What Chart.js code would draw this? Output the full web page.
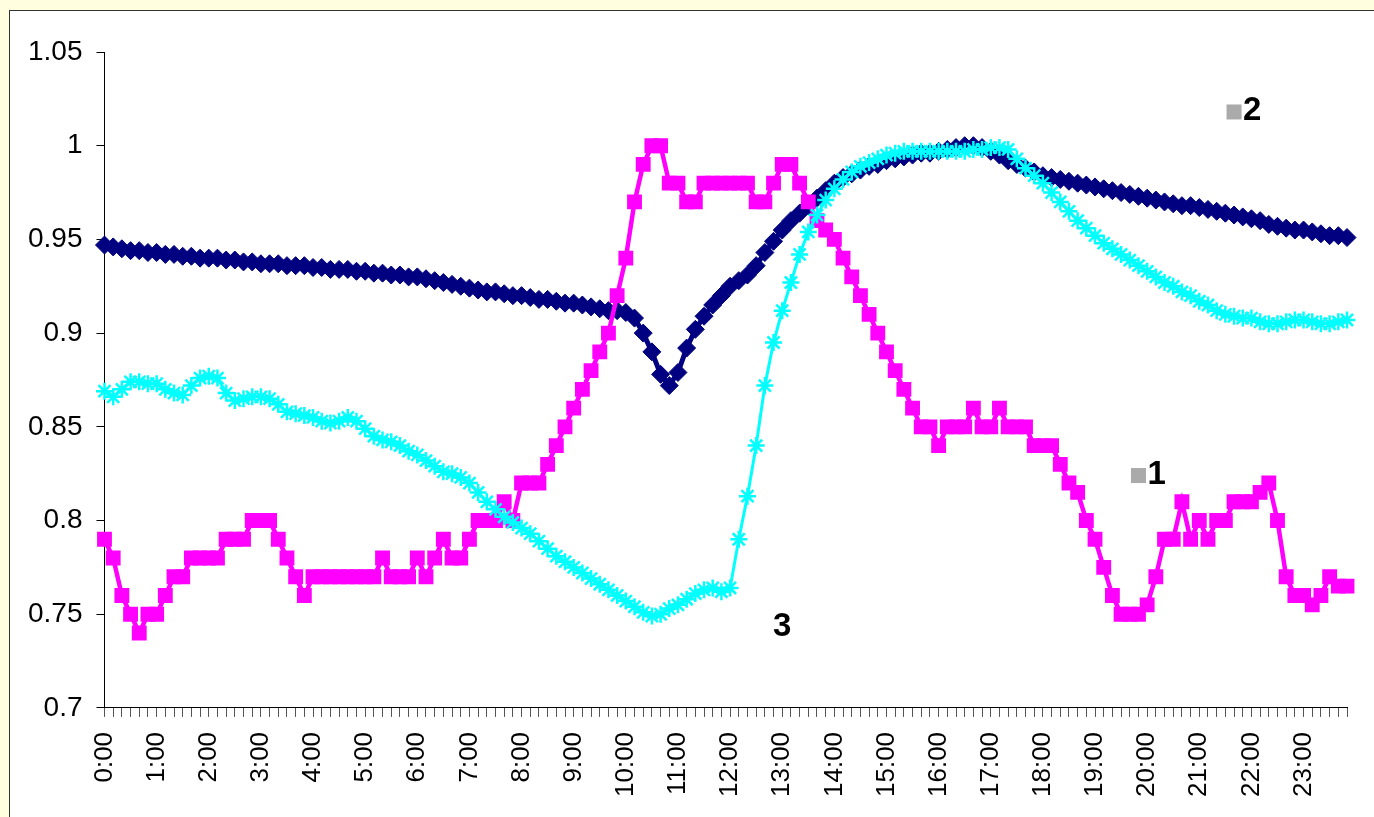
<!DOCTYPE html>
<html>
<head>
<meta charset="utf-8">
<script src="https://cdn.jsdelivr.net/npm/chart.js@4.4.1/dist/chart.umd.min.js"></script>
<style>
  body { margin: 0; width: 1374px; height: 817px; overflow: hidden; position: relative; background: #ffffe0; }
  #panel { position: absolute; left: 9px; top: 10px; width: 1400px; height: 850px; background: #fff; border: 1px solid #333; }
  canvas { position: absolute; left: 0; top: 0; }
</style>
</head>
<body>
<div id="panel"></div>
<canvas id="chart" width="1374" height="817"></canvas>
<script>
// one reading every 10 minutes, 0:00 .. 23:50
const times = [];
for (let h = 0; h < 24; h++) {
  for (let m = 0; m < 60; m += 10) times.push(h + ":" + String(m).padStart(2, "0"));
}

// series 1 (magenta squares)
const series1 = [
  0.79, 0.78, 0.76, 0.75, 0.74, 0.75,
  0.75, 0.76, 0.77, 0.77, 0.78, 0.78,
  0.78, 0.78, 0.79, 0.79, 0.79, 0.80,
  0.80, 0.80, 0.79, 0.78, 0.77, 0.76,
  0.77, 0.77, 0.77, 0.77, 0.77, 0.77,
  0.77, 0.77, 0.78, 0.77, 0.77, 0.77,
  0.78, 0.77, 0.78, 0.79, 0.78, 0.78,
  0.79, 0.80, 0.80, 0.80, 0.81, 0.80,
  0.82, 0.82, 0.82, 0.83, 0.84, 0.85,
  0.86, 0.87, 0.88, 0.89, 0.90, 0.92,
  0.94, 0.97, 0.99, 1.00, 1.00, 0.98,
  0.98, 0.97, 0.97, 0.98, 0.98, 0.98,
  0.98, 0.98, 0.98, 0.97, 0.97, 0.98,
  0.99, 0.99, 0.98, 0.97, 0.96, 0.955,
  0.95, 0.94, 0.93, 0.92, 0.91, 0.90,
  0.89, 0.88, 0.87, 0.86, 0.85, 0.85,
  0.84, 0.85, 0.85, 0.85, 0.86, 0.85,
  0.85, 0.86, 0.85, 0.85, 0.85, 0.84,
  0.84, 0.84, 0.83, 0.82, 0.815, 0.80,
  0.79, 0.775, 0.76, 0.75, 0.75, 0.75,
  0.755, 0.77, 0.79, 0.79, 0.81, 0.79,
  0.80, 0.79, 0.80, 0.80, 0.81, 0.81,
  0.81, 0.815, 0.82, 0.80, 0.77, 0.76,
  0.76, 0.755, 0.76, 0.77, 0.765, 0.765
];

// series 2 (navy diamonds)
const series2 = [
  0.947, 0.946, 0.945, 0.944, 0.944, 0.943,
  0.943, 0.942, 0.942, 0.941, 0.941, 0.940,
  0.940, 0.940, 0.939, 0.939, 0.938, 0.938,
  0.937, 0.937, 0.937, 0.936, 0.936, 0.936,
  0.935, 0.935, 0.934, 0.934, 0.934, 0.933,
  0.933, 0.932, 0.932, 0.931, 0.931, 0.930,
  0.930, 0.929, 0.928, 0.927, 0.926, 0.925,
  0.924, 0.923, 0.922, 0.922, 0.921, 0.920,
  0.920, 0.919, 0.918, 0.918, 0.917, 0.916,
  0.916, 0.915, 0.914, 0.913, 0.912, 0.912,
  0.911, 0.908, 0.900, 0.890, 0.878, 0.872,
  0.879, 0.892, 0.902, 0.909, 0.915, 0.920,
  0.925, 0.928, 0.931, 0.936, 0.943, 0.949,
  0.955, 0.960, 0.964, 0.968, 0.972, 0.976,
  0.980, 0.983, 0.985, 0.987, 0.989, 0.990,
  0.992, 0.993, 0.994, 0.995, 0.996, 0.996,
  0.997, 0.998, 0.999, 1.000, 1.000, 0.999,
  0.997, 0.995, 0.992, 0.990, 0.988, 0.986,
  0.984, 0.983, 0.982, 0.981, 0.980, 0.979,
  0.978, 0.977, 0.976, 0.975, 0.974, 0.973,
  0.972, 0.971, 0.970, 0.969, 0.968, 0.968,
  0.967, 0.966, 0.965, 0.964, 0.963, 0.962,
  0.961, 0.960, 0.958, 0.957, 0.956, 0.955,
  0.955, 0.954, 0.953, 0.952, 0.952, 0.951
];

// series 3 (cyan stars)
const series3 = [
  0.869, 0.866, 0.870, 0.874, 0.874, 0.873,
  0.873, 0.870, 0.868, 0.867, 0.872, 0.876,
  0.877, 0.876, 0.868, 0.864, 0.865, 0.866,
  0.866, 0.865, 0.862, 0.858, 0.857, 0.856,
  0.855, 0.853, 0.852, 0.853, 0.855, 0.853,
  0.849, 0.845, 0.843, 0.842, 0.840, 0.837,
  0.835, 0.832, 0.829, 0.826, 0.825, 0.823,
  0.820, 0.815, 0.810, 0.806, 0.802, 0.799,
  0.796, 0.793, 0.789, 0.785, 0.781, 0.778,
  0.775, 0.772, 0.769, 0.766, 0.763, 0.760,
  0.757, 0.754, 0.751, 0.749, 0.750, 0.753,
  0.755, 0.758, 0.761, 0.763, 0.764, 0.762,
  0.764, 0.790, 0.813, 0.840, 0.872, 0.895,
  0.912, 0.927, 0.942, 0.954, 0.963, 0.971,
  0.977, 0.982, 0.986, 0.989, 0.991, 0.993,
  0.995, 0.996, 0.997, 0.997, 0.997, 0.997,
  0.997, 0.997, 0.997, 0.997, 0.998, 0.998,
  0.999, 0.999, 0.998, 0.993, 0.988, 0.984,
  0.980, 0.975, 0.970, 0.965, 0.960, 0.956,
  0.952, 0.948, 0.945, 0.942, 0.939, 0.936,
  0.933, 0.930, 0.927, 0.925, 0.922, 0.920,
  0.917, 0.915, 0.912, 0.910, 0.909, 0.908,
  0.908, 0.906, 0.905, 0.905, 0.906, 0.907,
  0.907, 0.906, 0.905, 0.905, 0.906, 0.907
];

const yMin = 0.7, yMax = 1.05, yStep = 0.05;

// little series tags drawn inside the plot (anchored on time / value)
const seriesTags = [
  { text: "1", at: "19:50", value: 0.824, box: true },
  { text: "2", at: "21:40", value: 1.018, box: true },
  { text: "3", at: "13:00", value: 0.745, box: false },
];

const tagPlugin = {
  id: "tags",
  afterDatasetsDraw(chart) {
    const ctx = chart.ctx;
    const x = chart.scales.x, y = chart.scales.y;
    ctx.save();
    ctx.font = "bold 33px 'Liberation Sans', Arial, sans-serif";
    ctx.textBaseline = "alphabetic";
    seriesTags.forEach(t => {
      const px = x.getPixelForValue(times.indexOf(t.at));
      const py = y.getPixelForValue(t.value);
      ctx.fillStyle = "#000";
      if (t.box) {
        ctx.fillStyle = "#aaaaaa";
        ctx.fillRect(px - 7.5, py - 7.5, 15, 15);
        ctx.fillStyle = "#000";
        ctx.textAlign = "left";
        ctx.fillText(t.text, px + 9, py + 8);
      } else {
        ctx.textAlign = "center";
        ctx.fillText(t.text, px, py + 12);
      }
    });
    ctx.restore();
  }
};

new Chart(document.getElementById("chart"), {
  type: "line",
  data: {
    labels: times,
    datasets: [
      {
        label: "1",
        data: series1,
        order: 1,
        borderColor: "#ff00ff",
        backgroundColor: "#ff00ff",
        borderWidth: 4.5,
        pointStyle: "rect",
        pointRadius: 10.5,
        pointBorderWidth: 0,
      },
      {
        label: "2",
        data: series2,
        order: 2,
        borderColor: "#000080",
        backgroundColor: "#000080",
        borderWidth: 5,
        pointStyle: "rectRot",
        pointRadius: 9,
        pointBorderWidth: 1,
      },
      {
        label: "3",
        data: series3,
        order: 0,
        borderColor: "#00ffff",
        backgroundColor: "#00ffff",
        borderWidth: 3,
        pointStyle: "star",
        pointRadius: 8.5,
        pointBorderWidth: 2.5,
      },
    ],
  },
  options: {
    responsive: false,
    animation: false,
    devicePixelRatio: 1,
    layout: { padding: { left: 14, top: 52, right: 27, bottom: 5 } },
    plugins: {
      legend: { display: false },
      tooltip: { enabled: false },
    },
    scales: {
      x: {
        afterFit: s => { s.paddingRight = 0; s.paddingLeft = 0; },
        grid: { drawOnChartArea: false, drawTicks: true, tickLength: 9, color: "#555", tickColor: "#555" },
        border: { color: "#000", width: 1 },
        ticks: {
          autoSkip: false,
          maxRotation: 90,
          minRotation: 90,
          padding: 15,
          color: "#000",
          font: { family: "'Liberation Sans', Arial, sans-serif", size: 26 },
          callback: (v, i) => (times[i].endsWith(":00") ? times[i] : ""),
        },
      },
      y: {
        min: yMin,
        max: yMax,
        grid: { drawOnChartArea: false, drawTicks: true, tickLength: 8, color: "#000", tickColor: "#000" },
        border: { color: "#000", width: 1 },
        ticks: {
          stepSize: yStep,
          padding: 14,
          color: "#000",
          font: { family: "'Liberation Sans', Arial, sans-serif", size: 28 },
          callback: v => String(Math.round(v * 100) / 100),
        },
      },
    },
  },
  plugins: [tagPlugin],
});
</script>
</body>
</html>
